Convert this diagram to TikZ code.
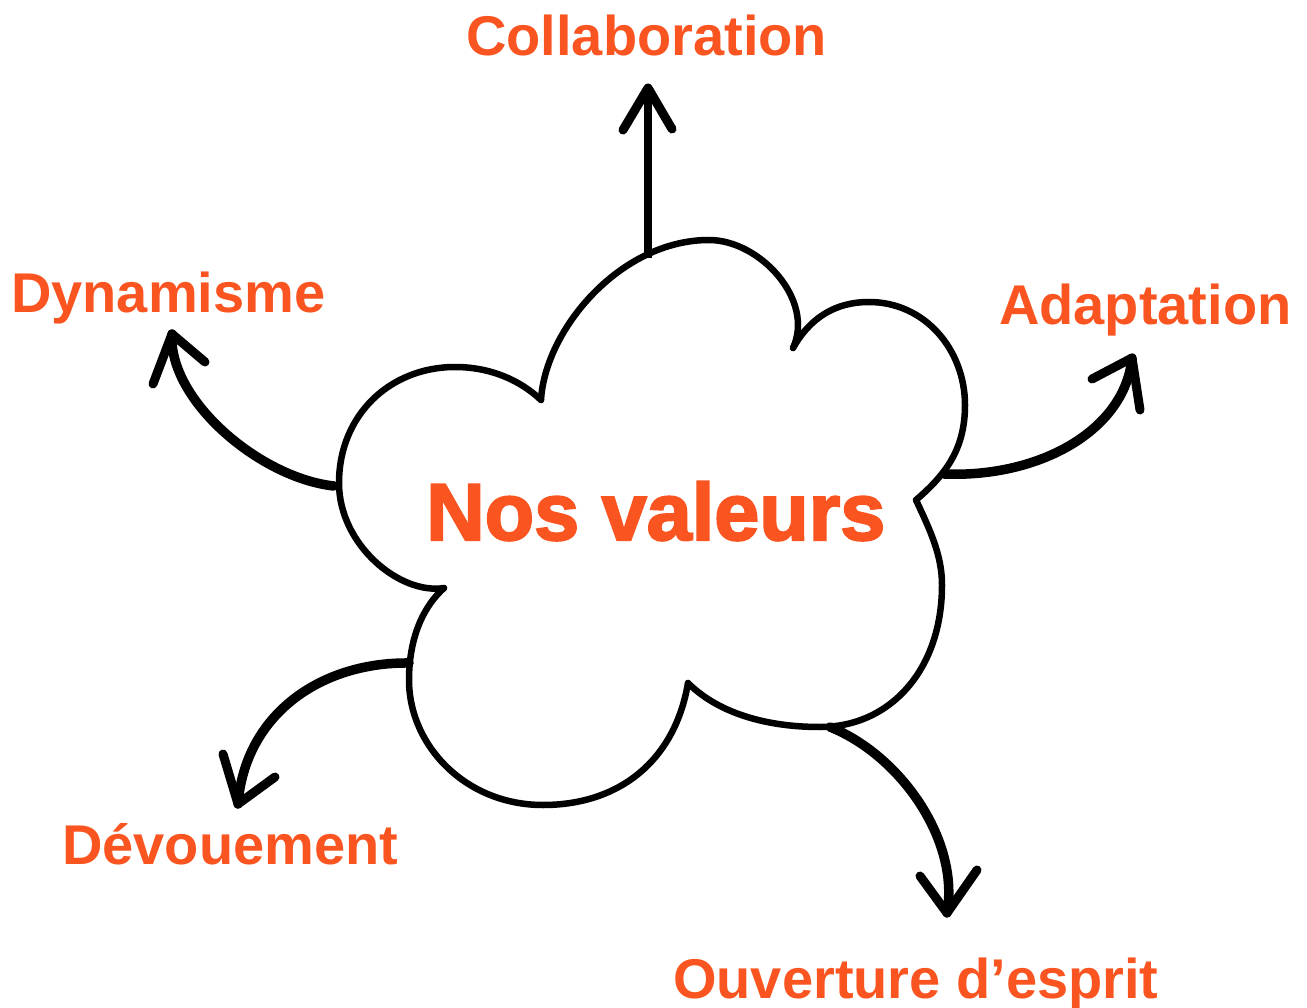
\documentclass[tikz,border=0pt]{standalone}
\usepackage{fontspec}
\setmainfont{Liberation Sans}
\newfontfamily\heavyfont{Liberation Sans}[BoldFeatures={FakeBold=2.5}]
\usetikzlibrary{calc}
\definecolor{accent}{HTML}{FA5420}
\begin{document}
\begin{tikzpicture}[x=1pt,y=-1pt,
  valtext/.style={text=accent, font=\bfseries\fontsize{56}{60}\selectfont, anchor=base west, inner sep=0pt},
  titletext/.style={text=accent, font=\heavyfont\bfseries\fontsize{81}{90}\selectfont, anchor=base west, inner sep=0pt},
  cloudline/.style={line width=6.5pt, line join=round, line cap=round},
  conn/.style={line width=9.5pt, line cap=round},
  stem/.style={line width=8pt},
  head/.style={line width=9pt, line cap=round, line join=round}]
\useasboundingbox (0,0) rectangle (1307,1008);

% cloud lobes
\draw[cloudline] (541,400) .. controls (545,330) and (620,240) .. (709,240)
                 .. controls (760,240) and (815,300) .. (793,348);
\draw[cloudline] (793,348) .. controls (810,318) and (835,302) .. (869,302)
                 .. controls (925,302) and (965,350) .. (965,405)
                 .. controls (965,450) and (945,475) .. (916,500);
\draw[cloudline] (916,500) .. controls (930,530) and (942,555) .. (942,585)
                 .. controls (942,670) and (890,727) .. (820,727)
                 .. controls (760,727) and (715,710) .. (688,683);
\draw[cloudline] (688,683) .. controls (675,760) and (620,805) .. (543,805)
                 .. controls (465,805) and (409,745) .. (409,680)
                 .. controls (409,635) and (425,605) .. (444,588);
\draw[cloudline] (444,588) .. controls (400,595) and (339,545) .. (339,483)
                 .. controls (339,415) and (390,367) .. (455,367)
                 .. controls (490,367) and (520,380) .. (541,400);

% texts
\node[titletext] (center) at (426,540) {Nos valeurs};
\node[valtext] (lCol) at (466,56) {Collaboration};
\node[valtext] (lDyn) at (11,313) {Dynamisme};
\node[valtext] (lAda) at (999,325) {Adaptation};
\node[valtext] (lDev) at (62,864) {Dévouement};
\node[valtext] (lOuv) at (673,998) {Ouverture d’esprit};

% connector ends
\coordinate (cCol) at (648,258);
\coordinate (tCol) at (648,88);
\coordinate (cDyn) at (334,486);
\coordinate (tDyn) at (172,334);
\coordinate (cAda) at (944,474);
\coordinate (tAda) at (1132,358);
\coordinate (cDev) at (409,663);
\coordinate (tDev) at (238,804);
\coordinate (cOuv) at (830,727);
\coordinate (tOuv) at (947,913);

% connectors
\draw[stem] (cCol) -- (tCol);
\draw[head] ($(tCol)+(-25,42)$) -- (tCol) -- ($(tCol)+(24,41)$);

\draw[conn] (cDyn) .. controls (260,478) and (168,400) .. (tDyn);
\draw[head] ($(tDyn)+(-19,50)$) -- (tDyn) -- ($(tDyn)+(33,28)$);

\draw[conn] (cAda) .. controls (1040,478) and (1125,430) .. (tAda);
\draw[head] ($(tAda)+(-40,21)$) -- (tAda) -- ($(tAda)+(8,52)$);

\draw[conn] (cDev) .. controls (320,662) and (245,715) .. (tDev);
\draw[head] ($(tDev)+(-15,-50)$) -- (tDev) -- ($(tDev)+(37,-27)$);

\draw[conn] (cOuv) .. controls (900,755) and (960,840) .. (tOuv);
\draw[head] ($(tOuv)+(-27,-37)$) -- (tOuv) -- ($(tOuv)+(30,-43)$);
\end{tikzpicture}
\end{document}
